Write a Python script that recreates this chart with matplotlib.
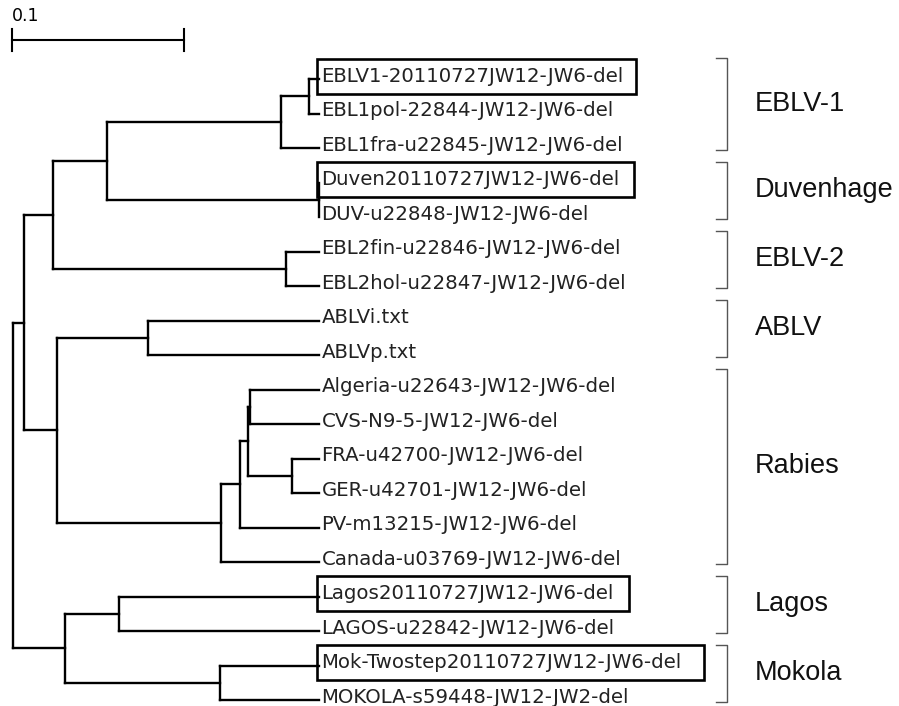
import matplotlib
matplotlib.use('Agg')
import matplotlib.pyplot as plt
from matplotlib.patches import Rectangle

# leaf labels, top to bottom
leaves = ['EBLV1-20110727JW12-JW6-del', 'EBL1pol-22844-JW12-JW6-del', 'EBL1fra-u22845-JW12-JW6-del',
          'Duven20110727JW12-JW6-del', 'DUV-u22848-JW12-JW6-del',
          'EBL2fin-u22846-JW12-JW6-del', 'EBL2hol-u22847-JW12-JW6-del',
          'ABLVi.txt', 'ABLVp.txt',
          'Algeria-u22643-JW12-JW6-del', 'CVS-N9-5-JW12-JW6-del', 'FRA-u42700-JW12-JW6-del',
          'GER-u42701-JW12-JW6-del', 'PV-m13215-JW12-JW6-del', 'Canada-u03769-JW12-JW6-del',
          'Lagos20110727JW12-JW6-del', 'LAGOS-u22842-JW12-JW6-del',
          'Mok-Twostep20110727JW12-JW6-del', 'MOKOLA-s59448-JW12-JW2-del']
boxed = [0, 3, 15, 17]

# internal nodes: name, distance from root, children (int = leaf index)
node_ids = ['root', 'n1', 'n2', 'n3', 'eblv1', 'eblv1a', 'duv', 'eblv2', 'n6', 'ablv',
            'rab', 'rab1', 'rab2', 'rab3', 'rab4', 'n12', 'lagos', 'mokola']
node_depth = [0.0, 0.0064, 0.0233, 0.0547, 0.1558, 0.1721, 0.1779, 0.1587, 0.0256, 0.0785,
              0.1209, 0.1320, 0.1369, 0.1378, 0.1622, 0.0302, 0.0616, 0.1203]
node_kids = [['n1', 'n12'], ['n2', 'n6'], ['n3', 'eblv2'], ['eblv1', 'duv'], ['eblv1a', 2], [0, 1],
             [3, 4], [5, 6], ['ablv', 'rab'], [7, 8], ['rab1', 14], ['rab2', 13], ['rab3', 'rab4'],
             [9, 10], [11, 12], ['lagos', 'mokola'], [15, 16], [17, 18]]
tip_depth = 0.1779

# clade brackets
clades = ['EBLV-1', 'Duvenhage', 'EBLV-2', 'ABLV', 'Rabies', 'Lagos', 'Mokola']
clade_first = [0, 3, 5, 7, 9, 15, 17]
clade_last = [2, 4, 6, 8, 14, 16, 18]

scale_len = 0.1

depth = dict(zip(node_ids, node_depth))
kids = dict(zip(node_ids, node_kids))


def pos(n):
    # returns (x, y) of a node; leaves are ints
    if isinstance(n, int):
        return tip_depth, n
    ys = [pos(c)[1] for c in kids[n]]
    return depth[n], (ys[0] + ys[-1]) / 2


fig = plt.figure(figsize=(8.99, 7.06), dpi=100)
ax = fig.add_axes([0, 0, 1, 1])
ax.set_xlim(-13 / 1720, 886 / 1720)
ax.set_ylim(627 / 34.5, -79 / 34.5)
ax.axis('off')

lw = 1.7
for n in node_ids:
    x, _ = pos(n)
    cy = [pos(c)[1] for c in kids[n]]
    ax.plot([x, x], [cy[0], cy[-1]], color='black', lw=lw, solid_capstyle='projecting')
    for c in kids[n]:
        cx, yy = pos(c)
        ax.plot([x, cx], [yy, yy], color='black', lw=lw, solid_capstyle='projecting')

texts = []
for i, name in enumerate(leaves):
    t = ax.text(tip_depth + 0.0014, i - 0.08, name, fontsize=14.2, family='DejaVu Sans',
                va='center', ha='left', color='#222222')
    texts.append(t)

# boxes around the new sequences, sized from the rendered text
fig.canvas.draw()
r = fig.canvas.get_renderer()
px = 1 / 1720
py = 1 / 34.5
right_pad = [12, 14, 15, 22]
for i, pad in zip(boxed, right_pad):
    bb = texts[i].get_window_extent(r)
    x0 = tip_depth - 2 * px
    x1 = ax.transData.inverted().transform((bb.x1 + pad, 0))[0]
    ax.add_patch(Rectangle((x0, i - 0.1 - 17 * py), x1 - x0, 35 * py,
                           fill=False, ec='black', lw=1.9))

bx = 0.4151
tick = 0.0064
for name, a, b in zip(clades, clade_first, clade_last):
    top, bot = a - 0.6, b + 0.05
    ax.plot([bx - tick, bx, bx, bx - tick], [top, top, bot, bot], color='#555555', lw=1.0)
    ax.text(bx + 0.0163, (top + bot) / 2, name, fontsize=19.5, family='Liberation Sans',
            va='center', ha='left', color='#111111')

# scale bar
sy = -39 / 34.5
sx0 = -1 / 1720
ax.plot([sx0, sx0 + scale_len], [sy, sy], color='black', lw=1.5)
for xx in [sx0, sx0 + scale_len]:
    ax.plot([xx, xx], [sy - 0.33, sy + 0.33], color='black', lw=1.5)
ax.text(sx0, sy - 0.7, '0.1', fontsize=12.5, family='DejaVu Sans', ha='left', va='center')

fig.savefig('out.png', dpi=100, facecolor='white')
